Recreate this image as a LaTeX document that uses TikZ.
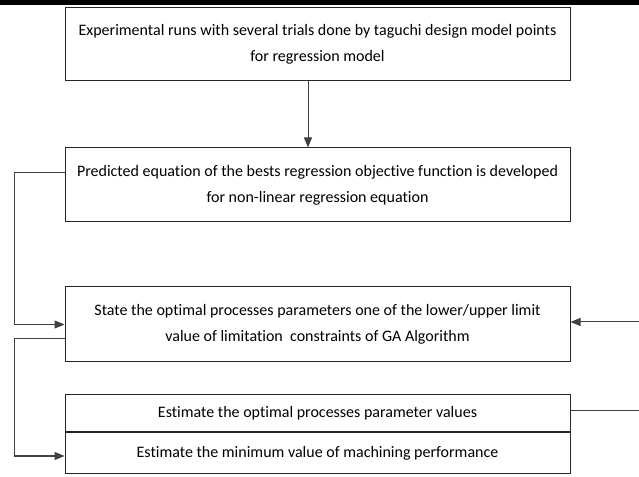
\documentclass[tikz,border=0pt]{standalone}
\usepackage{fontspec}
\setmainfont[Ligatures={NoCommon,NoDiscretionary}]{Carlito}
\usetikzlibrary{arrows.meta,calc}
\begin{document}
\begin{tikzpicture}[x=1pt,y=1pt,
  box/.style={draw=black!85,line width=1pt,minimum width=505pt,align=center,inner sep=0pt,
    font=\fontsize{16}{26}\selectfont},
  conn/.style={draw=black!75,line width=1pt},
  arr/.style={conn,-{Triangle[length=10pt,width=8pt]}}]
\useasboundingbox (0,0) rectangle (639,476);
\fill[black] (0,471) rectangle (639,476);
\node[box,minimum height=73pt] (b1) at (317.5,431.5) {Experimental runs with several trials done by taguchi design model points\\for regression model};
\node[box,minimum height=74pt] (b2) at (317.5,291) {Predicted equation of the bests regression objective function is developed\\for non-linear regression equation};
\node[box,minimum height=75pt] (b3) at (317.5,151.5) {State the optimal processes parameters one of the lower/upper limit\\value of limitation\ \ constraints of GA Algorithm};
\node[box,minimum height=37pt] (b4a) at (317.5,62.5) {Estimate the optimal processes parameter values};
\node[box,minimum height=40pt,anchor=north] (b4b) at (b4a.south) {Estimate the minimum value of machining performance};
\coordinate (L) at (14,0);
\coordinate (R) at (639,0);
\draw[arr] ([xshift=-9.5pt]b1.south) -- ([xshift=-9.5pt]b2.north);
\draw[arr] ([yshift=12pt]b2.west) -- ([yshift=12pt]b2.west -| L) -- (b3.west -| L) -- (b3.west);
\draw[arr] ([yshift=-14.5pt]b3.west) -- ([yshift=-14.5pt]b3.west -| L) -- ([yshift=-3pt]b4b.west -| L) -- ([yshift=-3pt]b4b.west);
\draw[conn] ([yshift=2.5pt]b4a.east) -- ([yshift=2.5pt]b4a.east -| R);
\draw[arr] ([yshift=2.5pt]b3.east -| R) -- ([yshift=2.5pt]b3.east);
\end{tikzpicture}
\end{document}
